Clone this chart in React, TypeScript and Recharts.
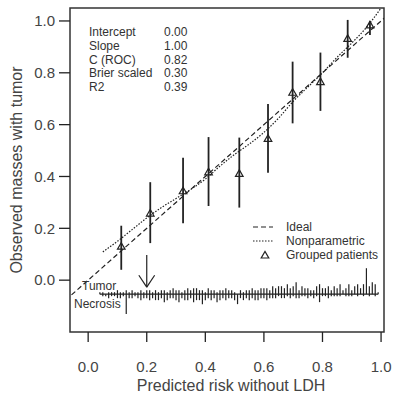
import React from 'react';
import {
  ComposedChart,
  XAxis,
  YAxis,
  Line,
  Scatter,
  ErrorBar,
  ReferenceArea,
  ReferenceLine,
  Legend,
} from 'recharts';

// grouped patients (deciles of predicted risk)
const groupRisk = [0.113, 0.212, 0.324, 0.411, 0.516, 0.614, 0.698, 0.793, 0.886, 0.962];
const groupObserved = [0.131, 0.259, 0.345, 0.418, 0.412, 0.547, 0.725, 0.766, 0.933, 0.985];
const groupLower = [0.04, 0.143, 0.22, 0.286, 0.28, 0.414, 0.605, 0.653, 0.858, 0.946];
const groupUpper = [0.21, 0.378, 0.472, 0.552, 0.55, 0.68, 0.843, 0.878, 1.004, 1.0];

// nonparametric (lowess) calibration curve
const smoothRisk = [0.05, 0.1, 0.15, 0.2, 0.25, 0.3, 0.35, 0.4, 0.45, 0.5, 0.55, 0.6, 0.65, 0.7, 0.75, 0.8, 0.85, 0.9, 0.95, 1.0];
const smoothObserved = [0.109, 0.15, 0.195, 0.24, 0.28, 0.315, 0.35, 0.39, 0.44, 0.485, 0.525, 0.57, 0.625, 0.69, 0.745, 0.8, 0.86, 0.915, 0.975, 1.05];

const idealRange = [-0.2, 1.2];

// distribution of predicted risk, bins 0.04 .. 0.99 (counts)
const rugStart = 0.04;
const rugStep = 0.01;
const tumorCounts = [
  1, 1, 0, 1, 1, 1, 2, 1, 1, 2,
  1, 2, 1, 1, 2, 1, 2, 2, 1, 2,
  1, 2, 2, 1, 2, 3, 2, 2, 1, 2,
  3, 2, 3, 3, 2, 2, 1, 3, 2, 2,
  1, 2, 2, 3, 2, 2, 1, 0, 2, 1,
  2, 2, 3, 2, 2, 3, 3, 3, 2, 4,
  3, 4, 4, 3, 5, 3, 4, 6, 2, 4,
  3, 3, 2, 2, 4, 5, 3, 3, 4, 2,
  4, 3, 5, 2, 3, 5, 2, 4, 5, 3,
  5, 13, 4, 6, 5, 1,
];
const necrosisCounts = [
  0, 1, 1, 2, 1, 1, 2, 2, 1, 10,
  2, 2, 1, 2, 3, 2, 2, 3, 2, 3,
  3, 2, 4, 3, 2, 2, 3, 4, 2, 3,
  3, 2, 4, 3, 3, 5, 3, 2, 3, 2,
  4, 3, 2, 3, 2, 2, 3, 5, 2, 3,
  2, 3, 2, 3, 3, 2, 2, 3, 2, 2,
  2, 1, 2, 2, 1, 2, 1, 2, 2, 1,
  1, 2, 1, 2, 1, 4, 1, 1, 2, 1,
  1, 1, 1, 0, 1, 1, 1, 0, 1, 0,
  1, 0, 1, 0, 1, 0,
];
const rugUnit = 0.0077;
const rugBase = -0.054;

const xTicks = [0, 0.2, 0.4, 0.6, 0.8, 1.0];
const yTicks = [0, 0.2, 0.4, 0.6, 0.8, 1.0];

const statNames = ['Intercept', 'Slope', 'C (ROC)', 'Brier scaled', 'R2'];
const statValues = ['0.00', '1.00', '0.82', '0.30', '0.39'];

const cutoff = 0.2;

const ink = '#222';
const font = '"Liberation Sans", Arial, sans-serif';

const groupData = groupRisk.map((x, i) => ({
  x,
  y: groupObserved[i],
  ci: [groupObserved[i] - groupLower[i], groupUpper[i] - groupObserved[i]],
}));
const smoothData = smoothRisk.map((x, i) => ({ x, y: smoothObserved[i] }));
const idealData = idealRange.map((v) => ({ x: v, y: v }));
const rugData = tumorCounts.map((t, i) => ({
  x: rugStart + i * rugStep,
  y: rugBase,
  h: [necrosisCounts[i] * rugUnit, t * rugUnit],
}));

const Triangle = (props: any) => {
  const { cx, cy } = props;
  return (
    <polygon
      points={`${cx - 3.8},${cy + 3} ${cx + 3.8},${cy + 3} ${cx},${cy - 3.6}`}
      fill="none"
      stroke={ink}
      strokeWidth={1.2}
    />
  );
};

const Nothing = () => <g />;

const LegendBox = () => (
  <svg width={140} height={46} style={{ fontFamily: font, fontSize: 12 }}>
    <line x1={3} x2={23} y1={8} y2={8} stroke={ink} strokeWidth={1.2} strokeDasharray="5 3" />
    <text x={36} y={8} dy="0.35em" fill="#333">Ideal</text>
    <line x1={3} x2={23} y1={22} y2={22} stroke={ink} strokeWidth={1.2} strokeDasharray="1.5 1.5" />
    <text x={36} y={22} dy="0.35em" fill="#333">Nonparametric</text>
    <Triangle cx={15} cy={36} />
    <text x={36} y={36} dy="0.35em" fill="#333">Grouped patients</text>
  </svg>
);

const App = () => {
  return (
    <div style={{ position: 'absolute', left: 0, top: 0, width: 394, height: 394, background: '#fff' }}>
      <ComposedChart width={394} height={394} margin={{ top: 8, right: 10, left: 0, bottom: 0 }}>
        <XAxis
          type="number"
          dataKey="x"
          domain={[-0.062, 1.01]}
          ticks={xTicks}
          allowDataOverflow
          axisLine={false}
          tickSize={10}
          tickMargin={19}
          height={62}
          tickLine={{ stroke: ink, strokeWidth: 1.3 }}
          tickFormatter={(v: number) => v.toFixed(1)}
          tick={{ fontSize: 15, fill: '#444', fontFamily: font }}
          label={{
            content: () => (
              <text x={231} y={391} textAnchor="middle" fontSize={16} fill="#444" fontFamily={font}>
                Predicted risk without LDH
              </text>
            ),
          }}
        />
        <YAxis
          type="number"
          dataKey="y"
          domain={[-0.2, 1.05]}
          ticks={yTicks}
          allowDataOverflow
          axisLine={false}
          width={70}
          tickSize={11}
          tickMargin={4}
          tickLine={{ stroke: ink, strokeWidth: 1.3 }}
          tickFormatter={(v: number) => v.toFixed(1)}
          tick={{ fontSize: 15, fill: '#444', fontFamily: font }}
          label={{
            content: () => (
              <text
                x={16}
                y={170}
                dy="0.35em"
                textAnchor="middle"
                transform="rotate(-90 16 170)"
                fontSize={16}
                fill="#444"
                fontFamily={font}
              >
                Observed masses with tumor
              </text>
            ),
          }}
        />
        <ReferenceArea
          x1={-0.062}
          x2={1.01}
          y1={-0.2}
          y2={1.05}
          fill="none"
          fillOpacity={0}
          stroke="#333"
          strokeWidth={1.5}
          ifOverflow="visible"
        />
        <Line
          data={idealData}
          dataKey="y"
          type="linear"
          stroke={ink}
          strokeWidth={1.2}
          strokeDasharray="5 3"
          dot={false}
          activeDot={false}
          isAnimationActive={false}
          legendType="none"
        />
        <Line
          data={smoothData}
          dataKey="y"
          type="monotone"
          stroke={ink}
          strokeWidth={1.2}
          strokeDasharray="1.5 1.5"
          dot={false}
          activeDot={false}
          isAnimationActive={false}
          legendType="none"
        />
        <Scatter data={groupData} dataKey="y" shape={Triangle} isAnimationActive={false} legendType="none">
          <ErrorBar dataKey="ci" direction="y" width={0} stroke={ink} strokeWidth={1.8} />
        </Scatter>
        <ReferenceLine
          segment={[
            { x: rugStart, y: rugBase },
            { x: rugStart + (tumorCounts.length - 1) * rugStep, y: rugBase },
          ]}
          stroke={ink}
          strokeWidth={1.2}
        />
        <Scatter data={rugData} dataKey="y" shape={Nothing} isAnimationActive={false} legendType="none">
          <ErrorBar dataKey="h" direction="y" width={0} stroke={ink} strokeWidth={1.2} />
        </Scatter>
        <ReferenceLine segment={[{ x: cutoff, y: 0.097 }, { x: cutoff, y: -0.027 }]} stroke={ink} strokeWidth={1.2} />
        <ReferenceLine segment={[{ x: cutoff - 0.027, y: 0.019 }, { x: cutoff, y: -0.027 }]} stroke={ink} strokeWidth={1.2} />
        <ReferenceLine segment={[{ x: cutoff + 0.027, y: 0.019 }, { x: cutoff, y: -0.027 }]} stroke={ink} strokeWidth={1.2} />
        <Legend
          layout="horizontal"
          verticalAlign="middle"
          align="center"
          content={LegendBox}
          wrapperStyle={{ position: 'absolute', left: 250, top: 219, width: 140, height: 46 }}
        />
      </ComposedChart>
      <div
        style={{
          position: 'absolute',
          left: 89,
          top: 26,
          fontFamily: font,
          fontSize: 12,
          lineHeight: '13.8px',
          color: '#333',
          display: 'grid',
          gridTemplateColumns: '75px auto',
        }}
      >
        {statNames.map((n, i) => (
          <React.Fragment key={n}>
            <span>{n}</span>
            <span>{statValues[i]}</span>
          </React.Fragment>
        ))}
      </div>
      <div style={{ position: 'absolute', left: 82, top: 278, fontFamily: font, fontSize: 12, lineHeight: '16px', color: '#333' }}>
        Tumor
      </div>
      <div style={{ position: 'absolute', left: 74, top: 296, fontFamily: font, fontSize: 12, lineHeight: '16px', color: '#333' }}>
        Necrosis
      </div>
    </div>
  );
};

export default App;
